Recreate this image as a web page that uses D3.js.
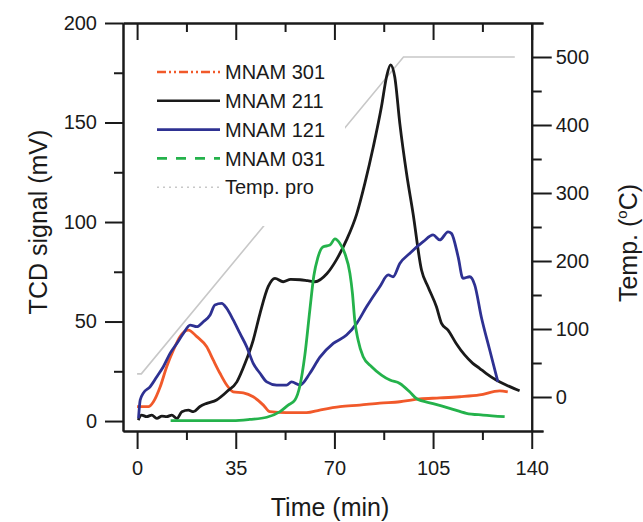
<!DOCTYPE html>
<html>
<head>
<meta charset="utf-8">
<script src="https://cdn.jsdelivr.net/npm/d3@7"></script>
<style>
  body { margin: 0; background: #fff; }
  svg { font-family: Arial, "Liberation Sans", sans-serif; }
</style>
</head>
<body>
<div id="vis"></div>
<script>
// values: [time (min), TCD signal (mV)]
var mnam301 = [[0,7.2],[4,7.2],[5.8,9.7],[8.2,17.2],[10.5,27.3],[12.9,35.7],[15.2,42.4],[18.2,45.7],
  [21.2,42.4],[24.7,37.3],[27,30.7],[29.4,24],[31.8,18.1],[34.1,14.7],[37.7,14.2],[41.2,12.2],
  [44.8,8],[47.1,4.7],[53,4.2],[60.1,4.2],[64.8,5.5],[72,7.2],[79,8],[86.1,9],[93.2,9.7],
  [100.3,11.1],[107.4,11.6],[114.5,12.2],[121.5,13.1],[128.6,15.2],[131.5,14.7]];

var mnam211 = [[0.4,0.5],[1.6,3],[3.4,2.2],[5.2,3],[7,1.3],[8.8,2.5],[10.5,2.2],[12.3,3],[14.1,1.3],
  [15.9,4.7],[18.2,5.5],[20,4.7],[22.2,7.2],[24.7,8.9],[28.2,10.6],[31.8,14.7],[35.4,19.7],
  [38.3,29],[41.2,40.7],[43.6,54],[46.5,67.5],[48.9,71.7],[51.8,70],[54.5,71.2],[57.8,71],
  [60.5,70.5],[63.1,70],[67.3,74],[70.7,81],[74.3,91],[77.9,104],[80.8,119.4],[83.8,137.8],
  [86.7,158],[88.5,173],[89.9,179],[91.4,173],[93.2,149.6],[95.6,124.4],[97.9,104.3],
  [100.9,75.9],[103.2,67.5],[106.2,57.4],[108,49.1],[110.3,45.7],[113.2,39],[116.2,33.2],
  [119.1,29],[121.5,26.5],[123.8,24],[127.4,20.6],[130.9,18.1],[135.7,15.2]];

var mnam121 = [[0.5,1.3],[1.1,10.6],[2.2,14],[4.6,17.2],[7,22.3],[9.3,27.3],[11.7,34],[14.1,39],
  [16.4,44],[18.8,48.2],[21.2,47.4],[23.5,49.9],[25.9,53.3],[27.6,58.3],[30,59.1],[31.8,56.6],
  [34.1,50.8],[36.5,44],[38.9,37.3],[41.2,29],[43.6,24],[46,19.7],[49.5,18.1],[53,18.1],
  [54.8,19.7],[57.8,18.1],[61.3,24],[64.8,32],[69.6,39],[74.3,43.2],[77.9,49.1],[81.4,57.4],
  [86.1,67.5],[89.1,73.4],[90.8,72.5],[93.2,79.2],[96.7,84.2],[101.5,90.1],[105,93.5],
  [107.4,91],[110.3,95.1],[111.5,94.3],[113.9,82.5],[115.6,71.7],[118,72.5],[119.8,68.3],
  [122.1,52.4],[125.1,35.7],[128,19.7]];

var mnam031 = [[11.9,0.2],[34,0.2],[40,0.8],[46,1.9],[50.7,4.7],[53.6,8],[56,10.6],[57.8,18],
  [59.5,33],[61.3,56],[62.7,73],[64.1,82],[65.9,87.5],[68.4,88.4],[70.2,91.5],[71.9,89.3],
  [73.7,84.2],[75.5,74.2],[76.4,64.2],[77.2,50.8],[78.4,40.7],[80.2,32.3],[83.2,27.3],
  [86.7,23.1],[89.7,20.6],[93.2,18.9],[96.7,14.7],[99.1,11.3],[105,8.8],[110.9,6.4],
  [116.8,3.9],[122.7,3],[130.4,2.2]];

// temperature programme: [time (min), temp (C)]
var tempPro = [[0,34],[1.5,34],[94.5,500],[134,500]];

var seriesNames = ['MNAM 301', 'MNAM 211', 'MNAM 121', 'MNAM 031', 'Temp. pro'];
var seriesColors = ['#f1592a', '#1a1a1a', '#2e3192', '#24b24b', '#c8c8c8'];
var seriesDash = ['9,3,2,3,2,3', null, null, '10,9', '2,4'];

var xTicks = [0, 35, 70, 105, 140];
var xMinor = [17.5, 52.5, 87.5, 122.5];
var yTicks = [0, 50, 100, 150, 200];
var yMinor = [25, 75, 125, 175];
var tTicks = [0, 100, 200, 300, 400, 500];
var tMinor = [50, 150, 250, 350, 450];

var width = 643, height = 522;

var svg = d3.select('#vis').append('svg')
  .attr('width', width)
  .attr('height', height);

// scales
var x = d3.scaleLinear().domain([-5, 144]).range([123, 543]);
var y = d3.scaleLinear().domain([-5, 200]).range([431, 23]);
var yT = d3.scaleLinear().domain([-50, 550]).range([431, 23]);

var line = d3.line()
  .x(function(d) { return x(d[0]); })
  .y(function(d) { return y(d[1]); })
  .curve(d3.curveMonotoneX);

var tLine = d3.line()
  .x(function(d) { return x(d[0]); })
  .y(function(d) { return yT(d[1]); });

// temperature programme (partly hidden under the legend)
svg.append('path')
  .datum(tempPro)
  .attr('fill', 'none')
  .attr('stroke', seriesColors[4])
  .attr('stroke-width', 1.6)
  .attr('d', tLine);

// legend background
svg.append('rect')
  .attr('x', 140).attr('y', 45)
  .attr('width', 205).attr('height', 181)
  .attr('fill', '#fff');

// signal curves
var series = [mnam301, mnam211, mnam121, mnam031];
series.forEach(function(s, i) {
  svg.append('path')
    .datum(s)
    .attr('fill', 'none')
    .attr('stroke', seriesColors[i])
    .attr('stroke-width', 2.8)
    .attr('stroke-linejoin', 'round')
    .attr('d', line);
});

// axes
function styleAxis(g) {
  g.selectAll('path, line').attr('stroke', '#1a1a1a').attr('stroke-width', 2);
  g.selectAll('text').attr('font-size', 20).attr('fill', '#1a1a1a')
    .attr('font-family', 'Arial, "Liberation Sans", sans-serif');
}

svg.append('g')
  .attr('transform', 'translate(0,431)')
  .call(d3.axisBottom(x).tickValues(xTicks).tickSize(18).tickSizeOuter(0).tickPadding(12))
  .call(styleAxis);
svg.append('g')
  .attr('transform', 'translate(0,431)')
  .call(d3.axisBottom(x).tickValues(xMinor).tickSize(9).tickSizeOuter(0).tickFormat(''))
  .call(styleAxis);

// top frame, ticks pointing in
svg.append('g')
  .attr('transform', 'translate(0,23)')
  .call(d3.axisTop(x).tickValues(xTicks).tickSize(-17).tickSizeOuter(0).tickFormat(''))
  .call(styleAxis);
svg.append('g')
  .attr('transform', 'translate(0,23)')
  .call(d3.axisTop(x).tickValues(xMinor).tickSize(-9).tickSizeOuter(0).tickFormat(''))
  .call(styleAxis);

svg.append('g')
  .attr('transform', 'translate(123,0)')
  .call(d3.axisLeft(y).tickValues(yTicks).tickSize(18).tickSizeOuter(0).tickPadding(8))
  .call(styleAxis);
svg.append('g')
  .attr('transform', 'translate(123,0)')
  .call(d3.axisLeft(y).tickValues(yMinor).tickSize(9).tickSizeOuter(0).tickFormat(''))
  .call(styleAxis);

svg.append('g')
  .attr('transform', 'translate(' + x(140) + ',0)')
  .call(d3.axisRight(yT).tickValues(tTicks).tickSize(20).tickSizeOuter(0).tickPadding(4))
  .call(styleAxis);
svg.append('g')
  .attr('transform', 'translate(' + x(140) + ',0)')
  .call(d3.axisRight(yT).tickValues(tMinor).tickSize(10).tickSizeOuter(0).tickFormat(''))
  .call(styleAxis);

// axis titles
svg.append('text')
  .attr('x', 330).attr('y', 516)
  .attr('text-anchor', 'middle')
  .attr('font-size', 25)
  .attr('fill', '#1a1a1a')
  .text('Time (min)');

svg.append('text')
  .attr('transform', 'translate(47,222) rotate(-90)')
  .attr('text-anchor', 'middle')
  .attr('font-size', 25)
  .attr('fill', '#1a1a1a')
  .text('TCD signal (mV)');

var tTitle = svg.append('text')
  .attr('transform', 'translate(637,243) rotate(-90)')
  .attr('text-anchor', 'middle')
  .attr('font-size', 25)
  .attr('fill', '#1a1a1a');
tTitle.append('tspan').text('Temp. (');
tTitle.append('tspan').attr('font-size', 15).attr('dy', -10).text('o');
tTitle.append('tspan').attr('dy', 10).text('C)');

// legend
var legend = svg.append('g');
seriesNames.forEach(function(name, i) {
  var ly = 72 + i * 28.8;
  legend.append('line')
    .attr('x1', 157).attr('x2', 220)
    .attr('y1', ly).attr('y2', ly)
    .attr('stroke', seriesColors[i])
    .attr('stroke-width', i === 4 ? 1.4 : 2.6)
    .attr('stroke-dasharray', seriesDash[i]);
  legend.append('text')
    .attr('x', 225).attr('y', ly)
    .attr('dy', '0.36em')
    .attr('font-size', 20)
    .attr('fill', '#1a1a1a')
    .text(name);
});
</script>
</body>
</html>
